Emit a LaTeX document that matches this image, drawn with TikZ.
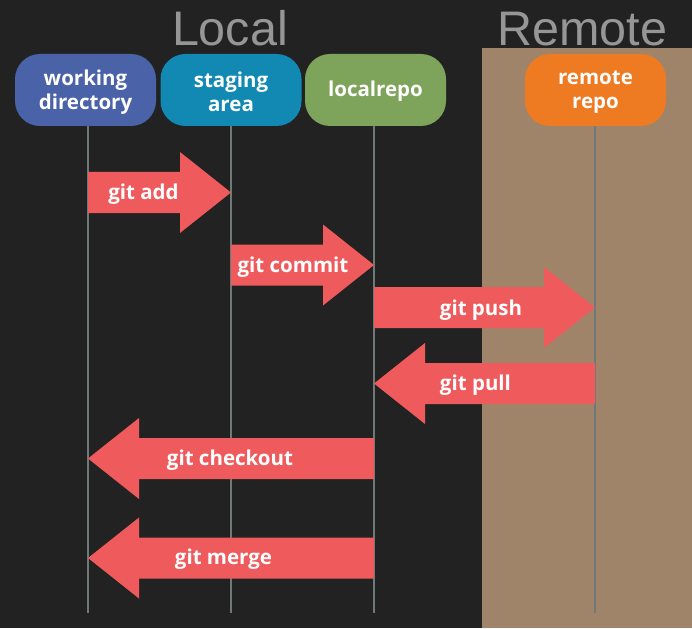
\documentclass[tikz,border=0pt]{standalone}
\usepackage{fontspec}
\setmainfont{Open Sans}
\newfontfamily\titlefont{Liberation Sans}
\begin{document}
\begin{tikzpicture}[x=1pt,y=-1pt,
  box/.style={rounded corners=25pt, minimum width=141pt, minimum height=72pt, inner sep=0pt},
  boxtext/.style={text=white, font=\bfseries\fontsize{20.5}{24}\selectfont, align=center, inner sep=0pt},
  lifeline/.style={draw=lifegray, line width=1.2pt},
  lbl/.style={text=white, font=\bfseries\fontsize{20.5}{24}\selectfont},
  ttl/.style={text=titlegray, font=\titlefont\fontsize{48.5}{52}\selectfont, anchor=base}]
\definecolor{bg}{HTML}{222222}
\definecolor{remotebg}{HTML}{A0846A}
\definecolor{wdblue}{HTML}{4A62A8}
\definecolor{sablue}{HTML}{1289B2}
\definecolor{lrgreen}{HTML}{7EA35A}
\definecolor{rrorange}{HTML}{EE7A22}
\definecolor{arrowred}{HTML}{EF5A5C}
\definecolor{lifegray}{HTML}{6E7A76}
\definecolor{titlegray}{HTML}{969696}
\newcommand{\fatarr}[3]{%
  \pgfmathsetmacro{\hb}{#2-51*sign(#2-#1)}%
  \fill[arrowred] (#1,#3-20.5) -- (\hb,#3-20.5) -- (\hb,#3-40.5) -- (#2,#3)
    -- (\hb,#3+40.5) -- (\hb,#3+20.5) -- (#1,#3+20.5) -- cycle;}
\fill[bg] (0,0) rectangle (692,628);
\useasboundingbox (0,0) rectangle (692,628);
\fill[remotebg] (482,48) rectangle (692,628);
\node[ttl] (local) at (230,46) {Local};
\node[ttl] (remote) at (582.5,46) {Remote};
\node[box, fill=wdblue] (wd) at (85.5,90) {};
\node[box, fill=sablue] (sa) at (231,90) {};
\node[box, fill=lrgreen] (lr) at (375.5,90) {};
\node[box, fill=rrorange] (rr) at (595.5,90) {};
\node[boxtext] (wdt) at (85.5,92) {working\\directory};
\node[boxtext] (sat) at (231,92) {staging\\area};
\node[boxtext] (lrt) at (375.5,91.5) {localrepo};
\node[boxtext] (rrt) at (595.5,92) {remote\\repo};
\coordinate (wdend) at (88,613);
\coordinate (saend) at (231,613);
\coordinate (lrend) at (374,613);
\coordinate (rrend) at (595,613);
\draw[lifeline] (wd.south -| wdend) -- (wdend);
\draw[lifeline] (sa.south -| saend) -- (saend);
\draw[lifeline] (lr.south -| lrend) -- (lrend);
\draw[lifeline] (rr.south -| rrend) -- (rrend);
\fatarr{88}{231}{192.5}
\fatarr{231}{374}{265}
\fatarr{374}{595}{307.5}
\fatarr{595}{374}{383.5}
\fatarr{374}{88}{458.5}
\fatarr{374}{88}{558}
\node[lbl] (add) at (143.5,194) {git add};
\node[lbl] (commit) at (293,267) {git commit};
\node[lbl] (push) at (481,310) {git push};
\node[lbl] (pull) at (475.5,385) {git pull};
\node[lbl] (checkout) at (230,460) {git checkout};
\node[lbl] (merge) at (223.5,559) {git merge};
\end{tikzpicture}
\end{document}
